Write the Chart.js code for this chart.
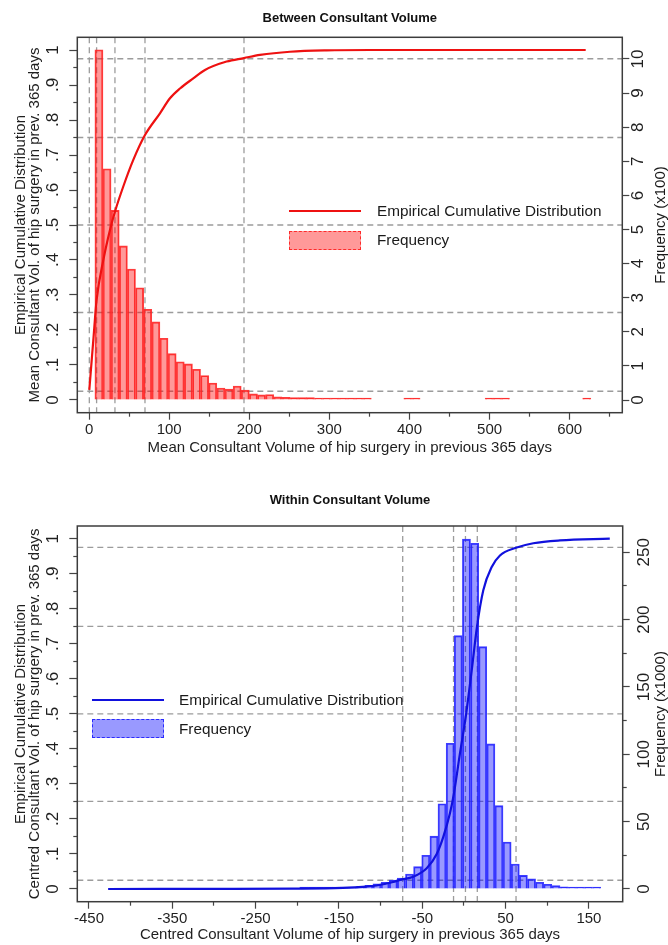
<!DOCTYPE html>
<html>
<head>
<meta charset="utf-8">
<title>Consultant Volume</title>
<script src="https://cdn.jsdelivr.net/npm/chart.js@4.4.1/dist/chart.umd.min.js"></script>
<style>
    body { margin: 0; background: #fff; font-family: 'Liberation Sans', Arial, sans-serif; color: #1a1a1a; }
    #page { position: relative; width: 668px; height: 945px; overflow: hidden; }
    .chart-box { position: absolute; left: 0; width: 668px; }
    .leg-line { position: absolute; height: 2px; }
    .leg-box { position: absolute; box-sizing: border-box; border: 1px dashed; }
    .leg-text { position: absolute; font-size: 15.3px; line-height: 18px; white-space: nowrap; }
    .freq-title { position: absolute; font-size: 15px; line-height: 14px; white-space: nowrap; transform: translate(-50%, -50%) rotate(-90deg); }
</style>
</head>
<body>
<div id="page">
    <div class="chart-box" style="top:0;height:462px"><canvas id="betweenChart"></canvas></div>
    <div class="chart-box" style="top:462px;height:483px"><canvas id="withinChart"></canvas></div>

    <!-- legend + right axis title, top chart -->
    <div class="leg-line" style="left:289px;top:210px;width:72px;background:#ee1111"></div>
    <div class="leg-box" style="left:289px;top:231px;width:72px;height:19px;background:rgba(255,0,0,0.4);border-color:#ff2a2a"></div>
    <div class="leg-text" style="left:377px;top:202px">Empirical Cumulative Distribution</div>
    <div class="leg-text" style="left:377px;top:231px">Frequency</div>
    <div class="freq-title" style="left:660px;top:225px">Frequency (x100)</div>

    <!-- legend + right axis title, bottom chart -->
    <div class="leg-line" style="left:92px;top:699px;width:72px;background:#1111dd"></div>
    <div class="leg-box" style="left:92px;top:719px;width:72px;height:19px;background:rgba(0,0,255,0.4);border-color:#2a2aff"></div>
    <div class="leg-text" style="left:179px;top:691px">Empirical Cumulative Distribution</div>
    <div class="leg-text" style="left:179px;top:720px">Frequency</div>
    <div class="freq-title" style="left:660px;top:714px">Frequency (x1000)</div>
</div>

<script>
Chart.defaults.font.family = "'Liberation Sans', Arial, sans-serif";
Chart.defaults.color = '#1f1f1f';
Chart.defaults.animation = false;

// Shared tick values (share axis) and quantile levels
const shareTicks = [0, 0.1, 0.2, 0.3, 0.4, 0.5, 0.6, 0.7, 0.8, 0.9, 1];
const shareMinorTicks = [0.05, 0.15, 0.25, 0.35, 0.45, 0.55, 0.65, 0.75, 0.85, 0.95];
const quantileLevels = [0.025, 0.25, 0.5, 0.75, 0.975];

// Between consultant volume
const betweenBinCentres = [12.3, 22.4, 32.6, 42.8, 52.9, 63.1, 73.2, 83.4, 93.5, 103.7,
    113.8, 124.0, 134.1, 144.3, 154.4, 164.6, 174.7, 184.9, 195.0, 205.2,
    215.3, 225.5, 235.6, 245.8, 255.9, 266.1, 276.2, 286.4, 296.5, 306.7,
    316.8, 327.0, 337.1, 347.3, 398.0, 408.2, 499.5, 509.7, 519.8, 621.3];
const betweenFreq = [1027, 678, 556, 452, 384, 329, 266, 229, 181, 136,
    112, 106, 90, 72, 50, 35, 32, 41, 29, 18,
    15, 16, 9, 8, 7, 7, 7, 6, 3, 1,
    1, 1, 1, 1, 1, 1, 1, 1, 1, 1];
const betweenCdfX = [0.3, 5.3, 9.4, 17.8, 26.1, 32.3, 42.7, 55.2, 69.8, 88.5, 101, 113.5,
    130.1, 144.7, 171.7, 193.4, 213.4, 250.8, 296.6, 350, 450, 620];
const betweenCdf = [0.029, 0.171, 0.286, 0.40, 0.486, 0.538, 0.61, 0.686, 0.757, 0.819, 0.862, 0.89,
    0.919, 0.943, 0.967, 0.977, 0.986, 0.995, 0.999, 1.0, 1.0, 1.0];
const betweenQuantiles = [0.3, 9.4, 32.3, 69.8, 193.4];
const betweenXTicks = [0, 100, 200, 300, 400, 500, 600];
const betweenXMinorTicks = [50, 150, 250, 350, 450, 550, 650];
const betweenFreqTicks = [0, 100, 200, 300, 400, 500, 600, 700, 800, 900, 1000];

// Within consultant volume (frequency in thousands)
const withinBinCentres = [-192.2, -182.4, -172.7, -162.9, -153.1, -143.4, -133.6, -123.9, -114.1, -104.4,
    -94.6, -84.8, -75.1, -65.3, -55.6, -45.8, -36.0, -26.3, -16.5, -6.8,
    3.0, 12.8, 22.5, 32.3, 42.0, 51.8, 61.6, 71.3, 81.1, 90.8,
    100.6, 110.4, 120.1, 129.9, 139.6, 149.4, 159.2];
const withinFreq = [0.2, 0.3, 0.4, 0.5, 0.7, 1.0, 1.4, 2.0, 2.8, 3.8,
    5.0, 6.7, 8.1, 11.1, 16.6, 25.0, 39.2, 63.3, 108.2, 188.1,
    259.7, 256.7, 179.9, 107.7, 61.9, 34.9, 18.5, 10.1, 7.5, 5.0,
    3.5, 2.5, 1.7, 1.2, 1.0, 0.6, 0.4];
const withinCdfX = [-427, -300, -205, -145, -117, -105, -85, -76.8, -60.8, -44.7, -32.7, -24.8,
    -16.8, -12, -4.8, 2.1, 9.3, 15.6, 23.2, 33.3, 43.2, 62.4, 83.2, 115.2, 175];
const withinCdf = [0, 0.0005, 0.001, 0.003, 0.007, 0.010, 0.02, 0.026, 0.035, 0.059, 0.10, 0.149,
    0.216, 0.273, 0.387, 0.491, 0.624, 0.748, 0.853, 0.919, 0.952, 0.974, 0.987, 0.995, 1.0];
const withinQuantiles = [-73.5, -12.5, 1.8, 16, 62.5];
const withinXTicks = [-450, -350, -250, -150, -50, 50, 150];
const withinXMinorTicks = [-400, -300, -200, -100, 0, 100];
const withinFreqTicks = [0, 50, 100, 150, 200, 250];
const withinFreqMinorTicks = [25, 75, 125, 175, 225];

// dashed quantile reference lines
const quantileLines = {
    id: 'quantileLines',
    beforeDatasetsDraw(chart, args, opts) {
        const { ctx, chartArea: a, scales } = chart;
        ctx.save();
        ctx.strokeStyle = '#9c9c9c';
        ctx.lineWidth = 1.3;
        ctx.setLineDash([6, 4]);
        opts.xs.forEach(v => {
            const x = scales.x.getPixelForValue(v);
            ctx.beginPath(); ctx.moveTo(x, a.top); ctx.lineTo(x, a.bottom); ctx.stroke();
        });
        opts.ys.forEach(v => {
            const y = scales.y.getPixelForValue(v);
            ctx.beginPath(); ctx.moveTo(a.left, y); ctx.lineTo(a.right, y); ctx.stroke();
        });
        ctx.restore();
    }
};

// box round the plot region
const plotFrame = {
    id: 'plotFrame',
    afterDatasetsDraw(chart) {
        const { ctx, chartArea: a } = chart;
        ctx.save();
        ctx.strokeStyle = '#3c3c3c';
        ctx.lineWidth = 1.5;
        ctx.strokeRect(a.left, a.top, a.right - a.left, a.bottom - a.top);
        ctx.restore();
    }
};

function fixedTicks(values) {
    return axis => { axis.ticks = values.map(v => ({ value: v })); };
}

function shareLabel(v) {
    if (v === 0) return '0';
    if (v === 1) return '1';
    return v.toFixed(1).replace(/^0/, '');
}

const tickGrid = len => ({ drawOnChartArea: false, offset: false, tickLength: len, tickColor: '#444', tickWidth: 1.2 });

// zero-size axis used only for the short minor tick marks
function minorAxis(position, min, max, values, len) {
    return {
        type: 'linear', position: position, min: min, max: max, weight: -1, offset: false,
        afterBuildTicks: fixedTicks(values),
        ticks: { display: false },
        grid: tickGrid(len),
        border: { display: false },
        afterFit: axis => {
            if (axis.isHorizontal()) axis.height = 0;
            else axis.width = 0;
        }
    };
}

function buildChart(canvasId, cfg) {
    return new Chart(document.getElementById(canvasId), {
        type: 'bar',
        data: {
            datasets: [
                {
                    type: 'line',
                    label: 'Empirical Cumulative Distribution',
                    data: cfg.cdfX.map((x, i) => ({ x: x, y: cfg.cdf[i] })),
                    borderColor: cfg.lineColor,
                    borderWidth: 2.2,
                    pointRadius: 0,
                    cubicInterpolationMode: 'monotone',
                    xAxisID: 'x',
                    yAxisID: 'y',
                    order: 0
                },
                {
                    type: 'bar',
                    label: 'Frequency',
                    data: cfg.bins.map((x, i) => ({ x: x, y: cfg.freq[i] })),
                    backgroundColor: cfg.barFill,
                    borderColor: cfg.barEdge,
                    borderWidth: 1.2,
                    barPercentage: 1,
                    categoryPercentage: 1,
                    minBarLength: 2,
                    xAxisID: 'x',
                    yAxisID: 'y2',
                    order: 1
                }
            ]
        },
        options: {
            responsive: true,
            maintainAspectRatio: false,
            events: [],
            layout: { padding: 0 },
            plugins: {
                legend: { display: false },
                tooltip: { enabled: false },
                title: {
                    display: true,
                    text: cfg.title,
                    fullSize: false,
                    color: '#111',
                    font: { size: 13, weight: 'bold', lineHeight: 1 },
                    padding: cfg.titlePadding
                },
                quantileLines: { xs: cfg.quantiles, ys: quantileLevels }
            },
            scales: {
                x: {
                    type: 'linear',
                    position: 'bottom',
                    min: cfg.xMin,
                    max: cfg.xMax,
                    offset: false,
                    afterBuildTicks: fixedTicks(cfg.xTicks),
                    ticks: { font: { size: 15 }, padding: 1, maxRotation: 0, autoSkip: false },
                    grid: tickGrid(7),
                    border: { display: false },
                    title: {
                        display: true,
                        text: cfg.xTitle,
                        font: { size: 15, lineHeight: 1 },
                        padding: { top: 0, bottom: cfg.xTitleBottom }
                    },
                    afterFit: axis => { axis.height = cfg.xHeight; }
                },
                xMinor: minorAxis('bottom', cfg.xMin, cfg.xMax, cfg.xMinorTicks, 4),
                y: {
                    type: 'linear',
                    position: 'left',
                    min: -0.0363,
                    max: 1.0363,
                    afterBuildTicks: fixedTicks(shareTicks),
                    ticks: {
                        callback: shareLabel,
                        font: { size: 17 },
                        minRotation: 90,
                        maxRotation: 90,
                        crossAlign: 'center',
                        padding: 9,
                        autoSkip: false
                    },
                    grid: tickGrid(8),
                    border: { display: false },
                    title: {
                        display: true,
                        text: ['Empirical Cumulative Distribution', cfg.yTitle],
                        font: { size: 15, lineHeight: 0.93 },
                        padding: { top: 14, bottom: 0 }
                    },
                    afterFit: axis => { axis.width = 77.3; }
                },
                yMinor: minorAxis('left', -0.0363, 1.0363, shareMinorTicks, 4),
                y2: {
                    type: 'linear',
                    position: 'right',
                    min: cfg.freqMin,
                    max: cfg.freqMax,
                    afterBuildTicks: fixedTicks(cfg.freqTicks),
                    ticks: {
                        callback: v => v / cfg.freqUnit,
                        font: { size: 17 },
                        minRotation: 90,
                        maxRotation: 90,
                        crossAlign: 'center',
                        padding: 0,
                        autoSkip: false
                    },
                    grid: tickGrid(7),
                    border: { display: false },
                    afterFit: axis => { axis.width = cfg.rightWidth; }
                },
                y2Minor: minorAxis('right', cfg.freqMin, cfg.freqMax, cfg.freqMinorTicks, 4)
            }
        },
        plugins: [quantileLines, plotFrame]
    });
}

buildChart('betweenChart', {
    title: 'Between Consultant Volume',
    titlePadding: { top: 12, bottom: 12.3 },
    bins: betweenBinCentres, freq: betweenFreq,
    cdfX: betweenCdfX, cdf: betweenCdf,
    quantiles: betweenQuantiles,
    lineColor: '#ee1111',
    barFill: 'rgba(255, 0, 0, 0.4)',
    barEdge: 'rgba(255, 40, 40, 0.9)',
    xMin: -14.7, xMax: 665.7,
    xTicks: betweenXTicks, xMinorTicks: betweenXMinorTicks,
    xTitle: 'Mean Consultant Volume of hip surgery in previous 365 days',
    xTitleBottom: 6.5, xHeight: 49.3,
    yTitle: 'Mean Consultant Vol. of hip surgery in prev. 365 days',
    freqMin: -37.2, freqMax: 1063.6, freqUnit: 100,
    freqTicks: betweenFreqTicks, freqMinorTicks: [],
    rightWidth: 45.7
});

buildChart('withinChart', {
    title: 'Within Consultant Volume',
    titlePadding: { top: 31.5, bottom: 19.5 },
    bins: withinBinCentres, freq: withinFreq,
    cdfX: withinCdfX, cdf: withinCdf,
    quantiles: withinQuantiles,
    lineColor: '#1111dd',
    barFill: 'rgba(0, 0, 255, 0.4)',
    barEdge: 'rgba(40, 40, 255, 0.9)',
    xMin: -464, xMax: 190.5,
    xTicks: withinXTicks, xMinorTicks: withinXMinorTicks,
    xTitle: 'Centred Consultant Volume of hip surgery in previous 365 days',
    xTitleBottom: 2.5, xHeight: 43.3,
    yTitle: 'Centred Consultant Vol. of hip surgery in prev. 365 days',
    freqMin: -9.43, freqMax: 269.5, freqUnit: 1,
    freqTicks: withinFreqTicks, freqMinorTicks: withinFreqMinorTicks,
    rightWidth: 45.3
});
</script>
</body>
</html>
